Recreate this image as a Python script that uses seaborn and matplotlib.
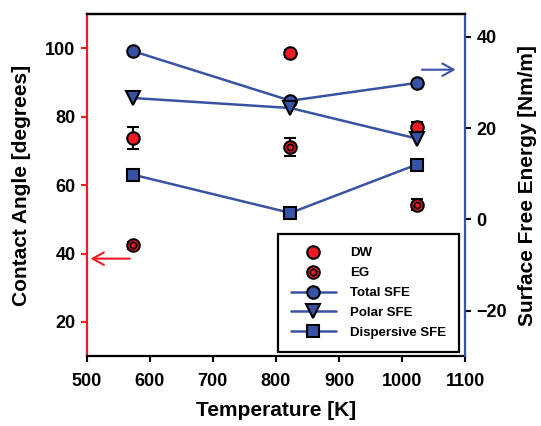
import matplotlib
matplotlib.use("Agg")
import matplotlib.pyplot as plt
from matplotlib.lines import Line2D
from matplotlib.legend_handler import HandlerTuple
import seaborn as sns
import pandas as pd
import numpy as np

# ---- data ----
temperature = [573, 823, 1023]
dw_angle = [73.8, 98.5, 77.0]
dw_err = [3.3, 1.0, 1.5]
eg_angle = [42.4, 71.2, 54.3]
eg_err = [1.0, 2.6, 1.6]
total_sfe = [36.9, 26.0, 29.9]
polar_sfe = [26.6, 24.4, 17.7]
dispersive_sfe = [9.8, 1.4, 12.0]
x_ticks = [500, 600, 700, 800, 900, 1000, 1100]
left_ticks = [20, 40, 60, 80, 100]
right_ticks = [-20, 0, 20, 40]

RED = "#ED1C24"
BLUE = "#3953A4"

sns.set_style("ticks")
plt.rcParams["font.family"] = ["Liberation Sans", "DejaVu Sans"]
plt.rcParams["font.weight"] = "bold"
plt.rcParams["text.color"] = "black"
plt.rcParams["axes.labelcolor"] = "black"
plt.rcParams["xtick.labelcolor"] = "black"
plt.rcParams["ytick.labelcolor"] = "black"

fig = plt.figure(figsize=(5.41, 4.26), dpi=100)
ax = fig.add_axes([0.160, 0.164, 0.700, 0.803])
ax2 = ax.twinx()

ms = 9
mew = 1.5

# contact angles (left axis)
ax.errorbar(temperature, dw_angle, yerr=dw_err, fmt="none", ecolor="black",
            elinewidth=1.5, capsize=4.5, capthick=1.5, zorder=2)
ax.errorbar(temperature, eg_angle, yerr=eg_err, fmt="none", ecolor="black",
            elinewidth=1.5, capsize=4.5, capthick=1.5, zorder=2)
df_ca = pd.DataFrame({"T": temperature, "DW": dw_angle, "EG": eg_angle})
sns.scatterplot(data=df_ca, x="T", y="DW", ax=ax, color=RED, edgecolor="black",
                linewidth=mew, s=ms**2, zorder=3, legend=False)
sns.scatterplot(data=df_ca, x="T", y="EG", ax=ax, color=RED, edgecolor="black",
                linewidth=mew, s=ms**2, zorder=3, legend=False)
sns.scatterplot(data=df_ca, x="T", y="EG", ax=ax, color=RED, edgecolor="black",
                linewidth=1.3, s=20, zorder=4, legend=False)

# surface free energies (right axis)
df_sfe = pd.DataFrame({"T": temperature, "Total": total_sfe,
                       "Polar": polar_sfe, "Dispersive": dispersive_sfe})
for col, mk in [("Total", "o"), ("Polar", "v"), ("Dispersive", "s")]:
    sns.lineplot(data=df_sfe, x="T", y=col, ax=ax2, color=BLUE, linewidth=1.8,
                 marker=mk, markersize=ms + (1 if mk == "v" else 0),
                 markerfacecolor=BLUE, markeredgecolor="black",
                 markeredgewidth=mew, legend=False)

ax.set_xlim(500, 1100)
ax.set_ylim(10, 110)
ax2.set_ylim(-30, 45)
ax.set_xticks(x_ticks)
ax.set_yticks(left_ticks)
ax2.set_yticks(right_ticks)

# spines
for a in (ax, ax2):
    for s in a.spines.values():
        s.set_linewidth(1.6)
ax.spines["right"].set_visible(False)
ax2.spines["left"].set_visible(False)
ax2.spines["bottom"].set_visible(False)
ax.spines["left"].set_color(RED)
ax2.spines["right"].set_color(BLUE)
ax.spines["top"].set_color("black")
ax.spines["bottom"].set_color("black")
ax2.spines["top"].set_color("black")

ax.tick_params(axis="y", colors=RED, labelcolor="black", direction="out",
               length=4, width=1.5, labelsize=13, pad=4)
ax.tick_params(axis="x", colors="black", direction="out", length=4,
               width=1.5, labelsize=13, pad=8)
ax2.tick_params(axis="y", colors="black", direction="out", length=4,
                width=1.5, labelsize=13, pad=4)
for lab in ax.get_xticklabels() + ax.get_yticklabels() + ax2.get_yticklabels():
    lab.set_fontweight("bold")
    lab.set_color("black")

ax.set_xlabel("Temperature [K]", fontsize=15, fontweight="bold", labelpad=8,
              color="black")
ax.set_ylabel("Contact Angle [degrees]", fontsize=15, fontweight="bold",
              labelpad=10, color="black")
ax2.set_ylabel("Surface Free Energy [Nm/m]", fontsize=15, fontweight="bold",
               labelpad=8, color="black")

# arrows
ax.annotate("", xy=(502, 38.5), xytext=(573, 38.5),
            arrowprops=dict(arrowstyle="->,head_length=0.8,head_width=0.45",
                            color=RED, lw=1.5))
ax2.annotate("", xy=(1089, 32.8), xytext=(1027, 32.8),
             arrowprops=dict(arrowstyle="->,head_length=0.8,head_width=0.45",
                             color=BLUE, lw=1.5))

# legend
h_dw = Line2D([], [], linestyle="none", marker="o", markersize=ms,
              markerfacecolor=RED, markeredgecolor="black", markeredgewidth=mew)
h_eg_in = Line2D([], [], linestyle="none", marker="o", markersize=4.5,
                 markerfacecolor=RED, markeredgecolor="black", markeredgewidth=1.3)
h_tot = Line2D([], [], color=BLUE, lw=1.8, marker="o", markersize=ms,
               markerfacecolor=BLUE, markeredgecolor="black", markeredgewidth=mew)
h_pol = Line2D([], [], color=BLUE, lw=1.8, marker="v", markersize=ms + 1,
               markerfacecolor=BLUE, markeredgecolor="black", markeredgewidth=mew)
h_dis = Line2D([], [], color=BLUE, lw=1.8, marker="s", markersize=ms,
               markerfacecolor=BLUE, markeredgecolor="black", markeredgewidth=mew)
leg = ax2.legend([h_dw, (h_dw, h_eg_in), h_tot, h_pol, h_dis],
                 ["DW", "EG", "Total SFE", "Polar SFE", "Dispersive SFE"],
                 handler_map={tuple: HandlerTuple(ndivide=1)},
                 loc="lower right", bbox_to_anchor=(0.995, 0.0),
                 prop={"weight": "bold", "size": 9.5}, frameon=True,
                 fancybox=False, edgecolor="black", framealpha=1,
                 handlelength=3.4, handletextpad=1.1, borderpad=1.0,
                 labelspacing=0.58, borderaxespad=0.3)
leg.get_frame().set_linewidth(1.6)

fig.savefig("out.png", dpi=100)
